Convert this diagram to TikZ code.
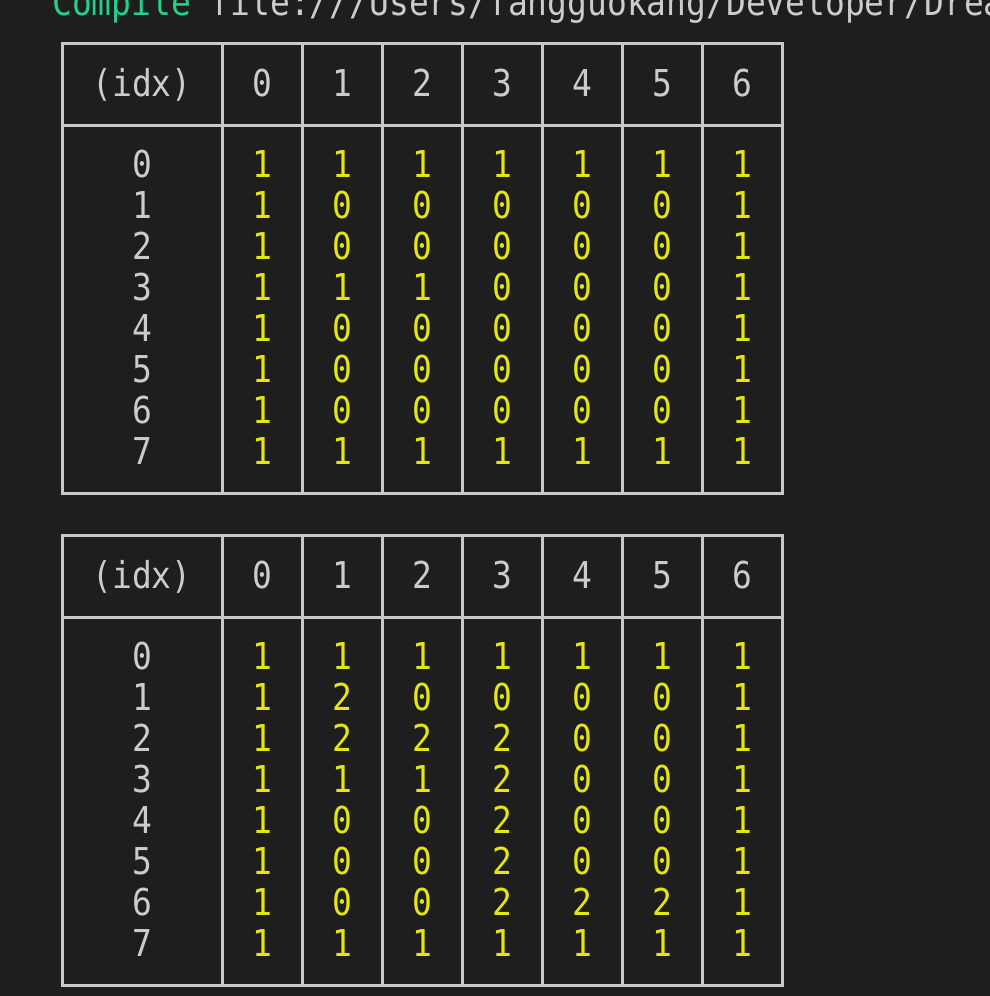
\documentclass[tikz,border=0pt]{standalone}
\usepackage{fontspec}
\newfontfamily\term[FakeStretch=0.89]{DejaVu Sans Mono}
\definecolor{bg}{HTML}{1E1E1E}
\definecolor{lgray}{HTML}{C8C8C8}
\definecolor{tgray}{HTML}{CCCCCC}
\definecolor{tyellow}{HTML}{E5E510}
\definecolor{tgreen}{HTML}{23D18B}
\newcommand\drawgridtable[3]{%
  \begin{scope}[yshift=-#2pt]
    % frame and grid lines
    \draw[gridline] (62,0) rectangle (782,450);
    \draw[gridline] (62,82) -- (782,82);
    \foreach \gx in {222,302,382,462,542,622,702}
      \draw[gridline] (\gx,0) -- (\gx,450);
    % header
    \node[lbl] (#1-h) at (142,53) {(idx)};
    \foreach \c in {0,...,6}
      \node[lbl] (#1-h\c) at ({262+80*\c},53) {\c};
    % rows
    \foreach \rowdata [count=\r from 0] in {#3} {
      \node[lbl] (#1-l\r) at (142,{134.5+41*\r}) {\r};
      \foreach \v [count=\c from 0] in \rowdata
        \node[val] (#1-\r-\c) at ({262+80*\c},{134.5+41*\r}) {\v};
    }
  \end{scope}%
}
\begin{document}
\begin{tikzpicture}[x=1pt,y=-1pt,
  cell/.style={anchor=base, inner sep=0pt, font=\term\fontsize{37pt}{41pt}\selectfont},
  val/.style={cell, text=tyellow},
  lbl/.style={cell, text=tgray},
  gridline/.style={draw=lgray, line width=3pt}]
\useasboundingbox (0,0) rectangle (990,996);
\fill[bg] (0,0) rectangle (990,996);
\begin{scope}
  \clip (0,0) rectangle (990,996);
  \node[cell, anchor=base west] (cmd) at (52,15)
    {\textcolor{tgreen}{Compile} \textcolor{tgray}{file:///Users/fangguokang/Developer/Dream}};
  \drawgridtable{ta}{43}{{1,1,1,1,1,1,1},{1,0,0,0,0,0,1},{1,0,0,0,0,0,1},{1,1,1,0,0,0,1},{1,0,0,0,0,0,1},{1,0,0,0,0,0,1},{1,0,0,0,0,0,1},{1,1,1,1,1,1,1}}
  \drawgridtable{tb}{535}{{1,1,1,1,1,1,1},{1,2,0,0,0,0,1},{1,2,2,2,0,0,1},{1,1,1,2,0,0,1},{1,0,0,2,0,0,1},{1,0,0,2,0,0,1},{1,0,0,2,2,2,1},{1,1,1,1,1,1,1}}
\end{scope}
\end{tikzpicture}
\end{document}
